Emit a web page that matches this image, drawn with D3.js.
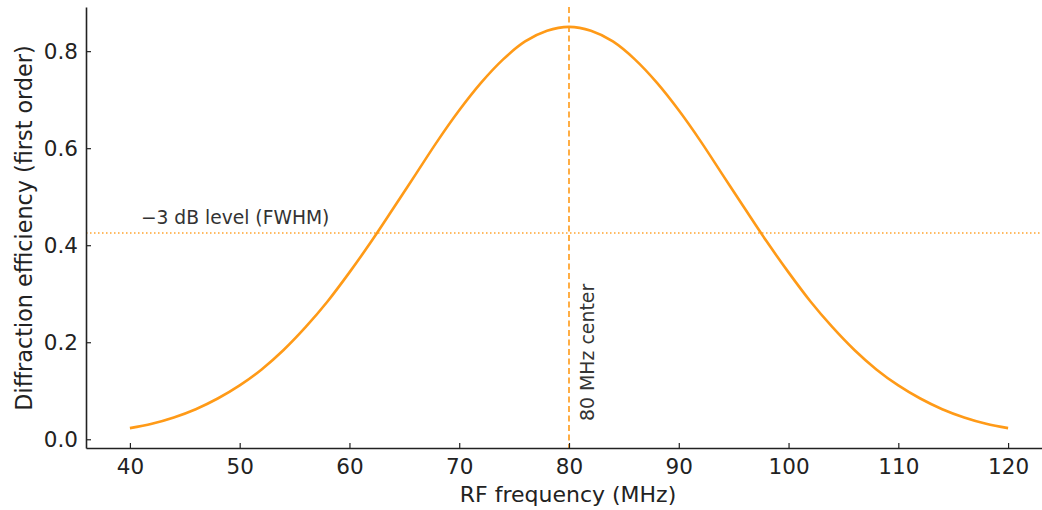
<!DOCTYPE html>
<html>
<head>
<meta charset="utf-8">
<script src="https://cdn.jsdelivr.net/npm/d3@7"></script>
<style>
  body { margin: 0; background: #fff; }
  text { font-family: "DejaVu Sans", sans-serif; }
</style>
</head>
<body>
<script>
// values
var freqs = [40, 42, 44, 46, 48, 50, 52, 54, 56, 58, 60, 62, 64, 66, 68, 70, 72, 74, 76, 78, 80,
             82, 84, 86, 88, 90, 92, 94, 96, 98, 100, 102, 104, 106, 108, 110, 112, 114, 116, 118, 120]
var effLeft = [0.023, 0.032, 0.045, 0.062, 0.084, 0.111, 0.144, 0.184, 0.231, 0.284, 0.344,
               0.408, 0.476, 0.545, 0.614, 0.678, 0.735, 0.783, 0.820, 0.842, 0.85]
var effRight = [0.842, 0.820, 0.783, 0.735, 0.678, 0.614, 0.545, 0.476, 0.408, 0.344,
                0.284, 0.231, 0.184, 0.144, 0.111, 0.084, 0.062, 0.045, 0.032, 0.023]
var efficiency = effLeft.concat(effRight)
var xTicks = [40, 50, 60, 70, 80, 90, 100, 110, 120]
var yTicks = [0.0, 0.2, 0.4, 0.6, 0.8]
var centerFreq = 80
var halfLevel = 0.425

var W = 1042, H = 510
var orange = '#ff9a17'

var svg = d3.select('body').append('svg')
    .attr('width', W)
    .attr('height', H)

var x = d3.scaleLinear().domain([36, 124]).range([86, 1052])
var y = d3.scaleLinear().domain([-0.018, 0.891]).range([448, 7])

var data = freqs.map(function (f, i) { return { f: f, v: efficiency[i] } })

// reference lines
svg.append('line')
    .attr('x1', x(36)).attr('x2', x(124))
    .attr('y1', y(halfLevel)).attr('y2', y(halfLevel))
    .attr('stroke', orange).attr('stroke-width', 1.5)
    .attr('stroke-dasharray', '1.5,2.5')
    .attr('opacity', 0.9)

svg.append('line')
    .attr('x1', x(centerFreq)).attr('x2', x(centerFreq))
    .attr('y1', y(0.891)).attr('y2', y(-0.018))
    .attr('stroke', orange).attr('stroke-width', 1.6)
    .attr('stroke-dasharray', '6,3.5')

// curve
svg.append('path')
    .datum(data)
    .attr('fill', 'none')
    .attr('stroke', orange)
    .attr('stroke-width', 2.6)
    .attr('d', d3.line()
        .x(function (d) { return x(d.f) })
        .y(function (d) { return y(d.v) })
        .curve(d3.curveMonotoneX))

// axes
var xAxis = svg.append('g')
    .attr('transform', 'translate(0,448)')
    .call(d3.axisBottom(x).tickValues(xTicks).tickSizeInner(-5).tickSizeOuter(0).tickPadding(11)
        .tickFormat(d3.format('d')))
var yAxis = svg.append('g')
    .attr('transform', 'translate(86,0)')
    .call(d3.axisLeft(y).tickValues(yTicks).tickSizeInner(-5).tickSizeOuter(0).tickPadding(8)
        .tickFormat(d3.format('.1f')))

svg.selectAll('.domain').attr('stroke', '#222').attr('stroke-width', 1.6)
svg.selectAll('.tick line').attr('stroke', '#222').attr('stroke-width', 1.2)
svg.selectAll('.tick text')
    .attr('fill', '#222')
    .style('font-size', '21.5px')
    .style('font-family', '"DejaVu Sans", sans-serif')

// axis labels
svg.append('text')
    .attr('x', 568).attr('y', 502)
    .attr('text-anchor', 'middle')
    .attr('fill', '#222')
    .style('font-size', '22px')
    .text('RF frequency (MHz)')

svg.append('text')
    .attr('transform', 'translate(32,228) rotate(-90)')
    .attr('text-anchor', 'middle')
    .attr('fill', '#222')
    .style('font-size', '22.3px')
    .text('Diffraction efficiency (first order)')

// annotations
svg.append('text')
    .attr('x', x(41)).attr('y', y(halfLevel) - 9)
    .attr('fill', '#333')
    .style('font-size', '18.7px')
    .text('\u22123 dB level (FWHM)')

svg.append('text')
    .attr('transform', 'translate(' + (x(centerFreq) + 25) + ',' + (y(0.05) + 6) + ') rotate(-90)')
    .attr('fill', '#333')
    .style('font-size', '18.9px')
    .text('80 MHz center')
</script>
</body>
</html>
